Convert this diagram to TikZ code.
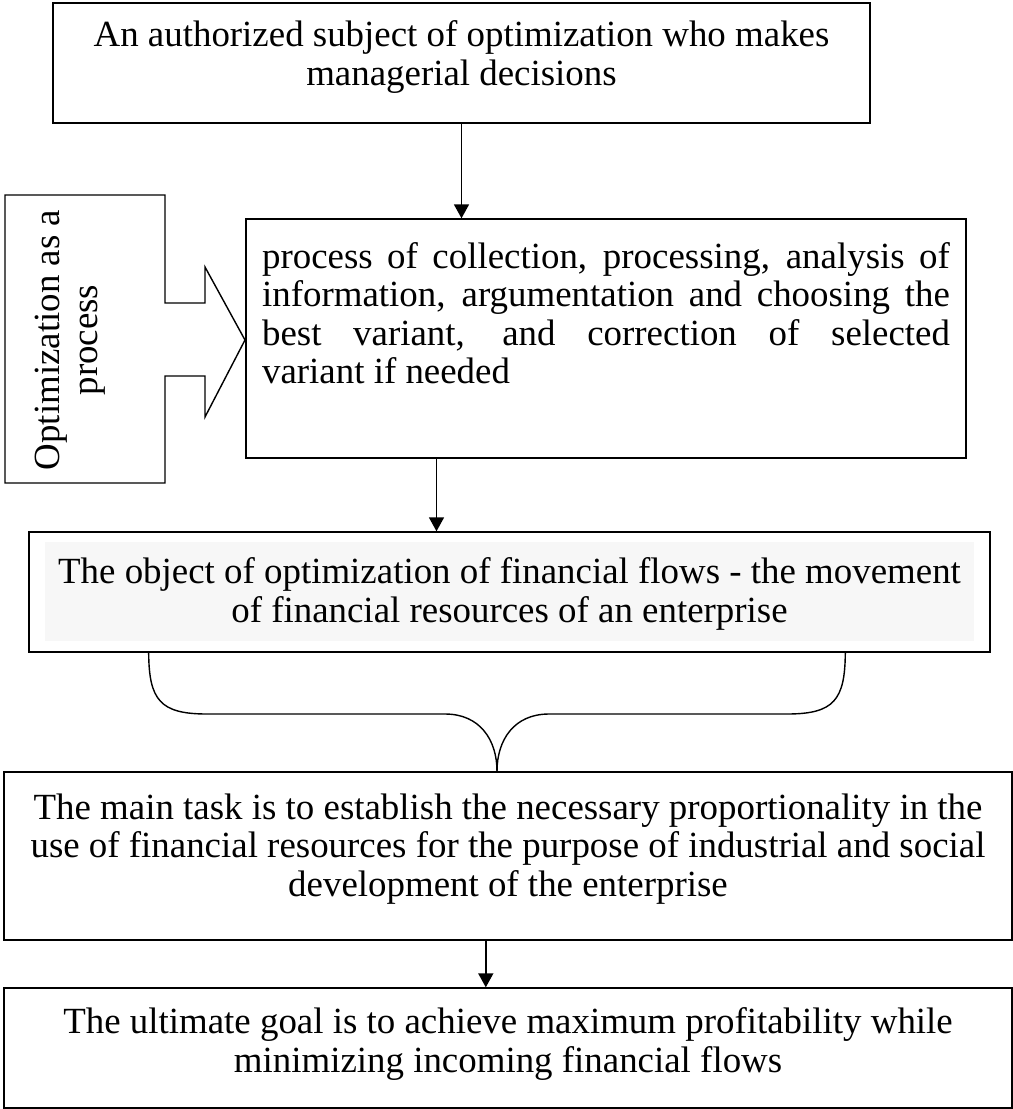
\documentclass[tikz,border=0pt]{standalone}
\usepackage{fontspec}
\setmainfont{Liberation Serif}
\usetikzlibrary{arrows.meta,calc,positioning}

\begin{document}
\begin{tikzpicture}[x=0.02cm,y=-0.02cm,
    box/.style={draw, line width=0.8pt, inner sep=0pt},
    txt/.style={font=\fontsize{21}{21.8}\selectfont, align=center},
    arr/.style={line width=0.9pt, -{Triangle[width=0.3cm,length=0.28cm]}}]
  \useasboundingbox (0,0) rectangle (1013,1109);
  % Subject
  \node[box, minimum width=16.34cm, minimum height=2.4cm] (subj) at (461.5,63) {};
  \node[txt, yshift=0.12cm] (subjtext) at (subj.center)
    {An authorized subject of optimization who makes\\managerial decisions};
  % Process
  \node[box, minimum width=14.4cm, minimum height=4.78cm] (proc) at (606,338.5) {};
  \node[txt, align=justify, text width=13.76cm, below=0.36cm of proc.north] (proctext)
    {process of collection, processing, analysis of\linebreak information, argumentation and choosing the\linebreak best variant, and correction of selected\linebreak variant if needed};
  % Optimization as a process (block arrow)
  \draw[line width=0.8pt, line join=miter] (5,195) -- (165,195) -- (165,303) -- (205,303) -- (205,267)
    -- (245,340) -- (205,417) -- (205,376) -- (165,376) -- (165,483) -- (5,483) -- cycle;
  \node[txt, rotate=90] (opt) at (70,340) {Optimization as a\\process};
  % Object
  \fill[gray!6] (45,542) rectangle (974,641);
  \node[box, minimum width=19.22cm, minimum height=2.4cm] (obj) at (509.5,592) {};
  \node[txt, yshift=-0.04cm] (objtext) at (obj.center)
    {The object of optimization of financial flows - the movement\\of financial resources of an enterprise};
  % Main task
  \node[box, minimum width=20.16cm, minimum height=3.36cm] (task) at (508,856) {};
  \node[txt, yshift=0.14cm] (tasktext) at (task.center)
    {The main task is to establish the necessary proportionality in the\\use of financial resources for the purpose of industrial and social\\development of the enterprise};
  % Goal
  \node[box, minimum width=20.16cm, minimum height=2.4cm] (goal) at (508,1048) {};
  \node[txt, yshift=0.08cm] (goaltext) at (goal.center)
    {The ultimate goal is to achieve maximum profitability while\\minimizing incoming financial flows};
  % Arrows
  \draw[arr] (subj.south) -- (subj.south |- proc.north);
  \coordinate (p1) at ($(proc.south west)!0.265!(proc.south east)$);
  \draw[arr] (p1) -- (p1 |- obj.north);
  \coordinate (p2) at ($(task.south west)!0.478!(task.south east)$);
  \draw[arr] (p2) -- (p2 |- goal.north);
  % Brace
  \coordinate (bl) at ($(obj.south west)!0.125!(obj.south east)$);
  \coordinate (br) at ($(obj.south west)!0.849!(obj.south east)$);
  \coordinate (tip) at (497,0 |- task.north);
  \draw[line width=0.8pt] (bl) .. controls (149,700) and (160,714) .. (207,714) -- (445,714)
    .. controls (480,714) and (497,740) .. (tip);
  \draw[line width=0.8pt] (br) .. controls (845,700) and (834,714) .. (787,714) -- (549,714)
    .. controls (514,714) and (497,740) .. (tip);
\end{tikzpicture}
\end{document}
